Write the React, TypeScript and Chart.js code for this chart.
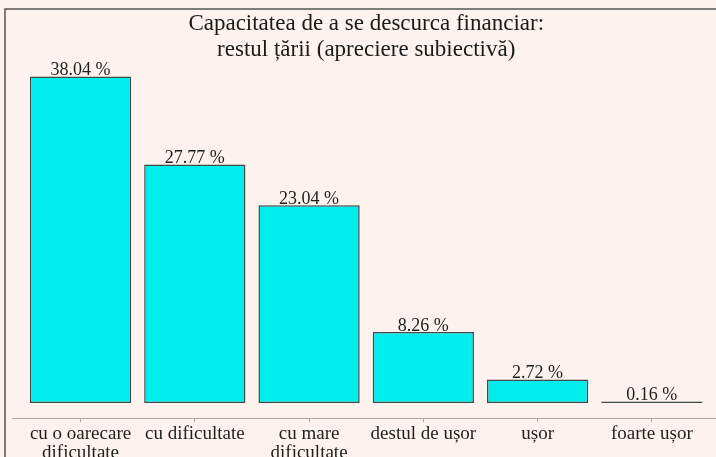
import React, { useEffect, useRef } from "react";
import { Chart, registerables } from "chart.js";

Chart.register(...registerables);

const categories: (string | string[])[] = [
  ["cu o oarecare", "dificultate"],
  "cu dificultate",
  ["cu mare", "dificultate"],
  "destul de ușor",
  "ușor",
  "foarte ușor",
];
const values: number[] = [38.04, 27.77, 23.04, 8.26, 2.72, 0.16];
const valueLabels: string[] = ["38.04 %", "27.77 %", "23.04 %", "8.26 %", "2.72 %", "0.16 %"];
const titleLines: string[] = [
  "Capacitatea de a se descurca financiar:",
  "restul țării (apreciere subiectivă)",
];

const FONT = "'Liberation Serif', 'Times New Roman', serif";

export default function App() {
  const ref = useRef<HTMLCanvasElement | null>(null);

  useEffect(() => {
    document.body.style.margin = "0";
    const canvas = ref.current;
    if (!canvas) return;

    const bgPlugin = {
      id: "bg",
      beforeDraw(chart: any) {
        const ctx = chart.ctx;
        ctx.save();
        ctx.fillStyle = "#fdf2ed";
        ctx.fillRect(0, 0, chart.width, chart.height);
        ctx.restore();
      },
      afterDraw(chart: any) {
        const ctx = chart.ctx;
        ctx.save();
        ctx.strokeStyle = "#555555";
        ctx.lineWidth = 1.5;
        ctx.beginPath();
        ctx.moveTo(5, chart.height);
        ctx.lineTo(5, 9);
        ctx.lineTo(chart.width, 9);
        ctx.stroke();
        ctx.restore();
      },
    };

    const axisLinePlugin = {
      id: "axisLine",
      afterDatasetsDraw(chart: any) {
        const ctx = chart.ctx;
        const y = chart.chartArea.bottom;
        ctx.save();
        ctx.strokeStyle = "#a8a8a8";
        ctx.lineWidth = 1;
        ctx.beginPath();
        ctx.moveTo(12, y + 0.5);
        ctx.lineTo(chart.width, y + 0.5);
        ctx.stroke();
        // value labels
        const meta = chart.getDatasetMeta(0);
        ctx.fillStyle = "#1e1e1e";
        ctx.font = `18px ${FONT}`;
        ctx.textAlign = "center";
        ctx.textBaseline = "alphabetic";
        meta.data.forEach((bar: any, i: number) => {
          ctx.fillText(valueLabels[i], bar.x, bar.y - 1.5);
        });
        ctx.restore();
      },
    };

    const chart = new Chart(canvas, {
      type: "bar",
      data: {
        labels: categories,
        datasets: [
          {
            data: values,
            backgroundColor: "#00eded",
            borderColor: "#3f4a4a",
            borderWidth: 1.5,
            borderSkipped: false,
            categoryPercentage: 1,
            barPercentage: 0.886,
          },
        ],
      },
      options: {
        animation: false,
        responsive: false,
        layout: { padding: { left: 23.4, right: 7, top: 0, bottom: 0 } },
        plugins: {
          legend: { display: false },
          tooltip: { enabled: false },
          title: {
            display: true,
            text: titleLines,
            color: "#1a1a1a",
            font: { family: FONT, size: 23, weight: "normal", lineHeight: 26 / 23 },
            padding: { top: 11, bottom: 0 },
          },
        },
        scales: {
          x: {
            grid: {
              display: true,
              drawOnChartArea: false,
              drawTicks: true,
              tickLength: 4,
              offset: false,
              color: "#a8a8a8",
            },
            border: { display: false },
            ticks: {
              color: "#1e1e1e",
              font: { family: FONT, size: 19, lineHeight: 1.0 },
              padding: 3,
              maxRotation: 0,
              autoSkip: false,
            },
            afterFit(scale: any) {
              scale.height = 39;
            },
          },
          y: {
            display: false,
            min: -1.75,
            max: 39.6,
          },
        },
      },
      plugins: [bgPlugin, axisLinePlugin],
    });

    return () => chart.destroy();
  }, []);

  return (
    <div style={{ width: 716, height: 457, overflow: "hidden" }}>
      <canvas ref={ref} width={716} height={457} style={{ display: "block" }} />
    </div>
  );
}
